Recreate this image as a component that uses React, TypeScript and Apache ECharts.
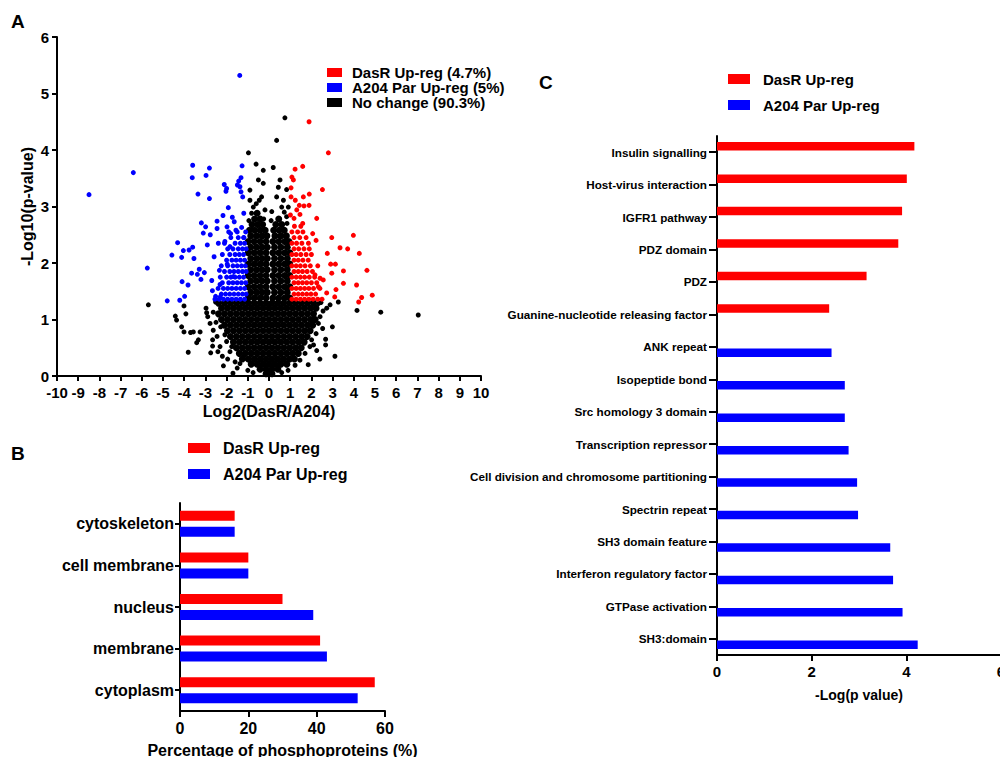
import React, { useEffect, useRef } from "react";
import * as echarts from "echarts";

const FONT = '"Liberation Sans", Arial, Helvetica, sans-serif';
const RED = "#ff0000";
const BLUE = "#0000ff";
const BLACK = "#000000";

// ---------- Panel A: volcano plot ----------
const nameUp = "DasR Up-reg (4.7%)";
const nameDown = "A204 Par Up-reg (5%)";
const nameNone = "No change (90.3%)";

// dense central cloud of unchanged phosphosites: [y, x values]
const noChangeCoreRows: [number, number[]][] = [
  [0.04, [-0.14, 0, 0.14]],
  [0.12, [-0.42, -0.14, 0.14, 0.42]],
  [0.21, [-0.84, -0.56, -0.28, 0, 0.28, 0.56, 0.84]],
  [0.3, [-1.26, -0.98, -0.7, -0.42, -0.14, 0.14, 0.42, 0.7, 0.98, 1.2]],
  [0.4, [-1.4, -1.12, -0.84, -0.56, -0.28, 0, 0.28, 0.56, 0.84, 1.12, 1.38]],
  [0.5, [-1.54, -1.26, -0.98, -0.7, -0.42, -0.14, 0.14, 0.42, 0.7, 0.98, 1.26, 1.52]],
  [0.6, [-1.68, -1.4, -1.12, -0.84, -0.56, -0.28, 0, 0.28, 0.56, 0.84, 1.12, 1.4, 1.66]],
  [0.7, [-1.82, -1.54, -1.26, -0.98, -0.7, -0.42, -0.14, 0.14, 0.42, 0.7, 0.98, 1.26, 1.54, 1.8]],
  [0.8, [-1.96, -1.68, -1.4, -1.12, -0.84, -0.56, -0.28, 0, 0.28, 0.56, 0.84, 1.12, 1.4, 1.68, 1.94]],
  [0.9, [-2.1, -1.82, -1.54, -1.26, -0.98, -0.7, -0.42, -0.14, 0.14, 0.42, 0.7, 0.98, 1.26, 1.54, 1.82, 2.06]],
  [1.0, [-2.24, -1.96, -1.68, -1.4, -1.12, -0.84, -0.56, -0.28, 0, 0.28, 0.56, 0.84, 1.12, 1.4, 1.68, 1.96, 2.18]],
  [1.1, [-2.38, -2.1, -1.82, -1.54, -1.26, -0.98, -0.7, -0.42, -0.14, 0.14, 0.42, 0.7, 0.98, 1.26, 1.54, 1.82, 2.1]],
  [1.2, [-2.24, -1.96, -1.68, -1.4, -1.12, -0.84, -0.56, -0.28, 0, 0.28, 0.56, 0.84, 1.12, 1.4, 1.68, 1.96, 2.22]],
  [1.29, [-2.38, -2.1, -1.82, -1.54, -1.26, -0.98, -0.7, -0.42, -0.14, 0.14, 0.42, 0.7, 0.98, 1.26, 1.54, 1.82, 2.1]],
  [1.38, [-0.98, -0.7, -0.42, -0.14, 0.18, 0.46, 0.74, 0.98]],
  [1.48, [-0.86, -0.58, -0.32, -0.08, 0.26, 0.56, 0.86]],
  [1.58, [-0.98, -0.7, -0.42, -0.14, 0.18, 0.46, 0.74, 0.98]],
  [1.68, [-0.86, -0.58, -0.32, -0.08, 0.26, 0.56, 0.86]],
  [1.78, [-0.98, -0.7, -0.42, -0.14, 0.18, 0.46, 0.74, 0.98]],
  [1.88, [-0.86, -0.58, -0.32, -0.08, 0.26, 0.56, 0.86]],
  [1.98, [-0.98, -0.7, -0.42, -0.14, 0.18, 0.46, 0.74, 0.98]],
  [2.08, [-0.86, -0.58, -0.32, -0.08, 0.26, 0.56, 0.86]],
  [2.18, [-0.98, -0.7, -0.42, -0.14, 0.18, 0.46, 0.74, 0.98]],
  [2.28, [-0.86, -0.58, -0.32, -0.08, 0.26, 0.56, 0.86]],
  [2.38, [-0.98, -0.7, -0.42, -0.14, 0.18, 0.46, 0.74, 0.94]],
  [2.48, [-0.86, -0.58, -0.32, -0.1, 0.28, 0.56, 0.82]],
  [2.58, [-0.92, -0.68, -0.42, -0.18, 0.22, 0.48, 0.72]],
  [2.68, [-0.8, -0.54, -0.3, 0.32, 0.6]],
  [2.78, [-0.68, -0.42, 0.46]],
  [2.88, [-0.56]],
];

// scattered unchanged phosphosites around the cloud: [x, y]
const noChangeSparse: [number, number][] = [
  [-5.69, 1.26], [-4.42, 1.06], [-4.36, 0.99], [-4.12, 0.87], [-4.01, 1.24], [-3.92, 1.1],
  [-4.01, 0.78], [-3.7, 0.77], [-3.57, 0.78], [-3.81, 0.42], [-3.41, 0.59], [-3.33, 0.64],
  [-3.25, 0.78], [-2.97, 1.2], [-2.94, 1.12], [-2.89, 1.05], [-2.78, 0.93], [-2.63, 1.13],
  [-2.75, 0.41], [-2.66, 0.53], [-2.66, 0.64], [-2.41, 0.43], [-2.31, 0.52], [-2.28, 0.87],
  [-2.63, 0.81], [-2.08, 0.73], [-2.0, 0.61], [-1.84, 0.43], [-1.76, 0.52], [-1.37, 0.22],
  [-1.21, 0.34], [-2.52, 1.31], [-2.5, 0.95], [-2.2, 0.35], [-1.95, 0.3], [-1.6, 0.25],
  [-1.5, 0.14], [-1.0, 0.1], [-0.75, 0.06], [-2.45, 0.7], [-2.15, 0.18], [-1.7, 0.05],
  [3.11, 0.35], [2.67, 0.65], [2.67, 0.55], [2.99, 0.87], [2.53, 0.84], [3.27, 1.31],
  [4.15, 1.16], [5.27, 1.13], [7.04, 1.08], [2.88, 1.26], [2.72, 1.2], [2.41, 1.05],
  [2.33, 0.93], [2.22, 0.75], [1.93, 0.52], [1.7, 0.4], [1.46, 0.28], [1.23, 0.19],
  [2.33, 1.28], [2.01, 0.64], [2.45, 1.3], [2.1, 0.55], [0.9, 0.1], [0.6, 0.06],
  [2.55, 1.15], [2.25, 0.45], [1.85, 0.2], [2.4, 0.3],
  [0.75, 4.57], [0.36, 4.17], [-0.97, 3.95], [-0.61, 3.75], [0.2, 3.69], [-0.27, 3.64],
  [0.44, 3.34], [0.83, 3.3], [0.52, 3.47], [-0.5, 3.47], [-0.35, 3.17], [-0.9, 3.29],
  [-0.46, 3.11], [0.36, 3.17], [0.68, 3.11], [0.91, 2.99], [0.6, 2.99], [-0.74, 2.99],
  [-0.19, 2.94], [0.13, 2.91], [-0.82, 2.88], [0.83, 2.82], [-0.27, 3.41], [-0.9, 3.11],
  [0.85, 2.7], [0.1, 2.75], [-0.95, 2.75], [-0.25, 2.78], [0.72, 2.9], [-0.6, 3.05],
];

// A204 Par up-regulated (left, significant): outliers [x, y]
const downOutliers: [number, number][] = [
  [-8.49, 3.21], [-6.4, 3.6], [-5.74, 1.91], [-4.8, 1.33], [-4.58, 2.14], [-4.31, 2.36],
  [-4.21, 1.34], [-4.12, 2.1], [-4.1, 1.67], [-4.04, 2.22], [-3.98, 1.41], [-3.82, 1.61],
  [-3.77, 2.23], [-3.65, 1.82], [-3.6, 2.28], [-3.54, 2.08], [-3.62, 3.51], [-3.6, 3.73],
  [-3.38, 1.8], [-3.35, 3.22], [-3.29, 1.89], [-3.21, 1.71], [-3.19, 2.71], [-3.1, 2.53],
  [-3.05, 1.83], [-2.99, 2.64], [-2.97, 3.55], [-2.91, 2.32], [-2.81, 3.68], [-2.81, 3.14],
  [-2.77, 2.5], [-2.7, 1.69], [-2.67, 1.51], [-2.59, 2.11], [-2.52, 1.41], [-2.45, 2.74],
  [-2.45, 2.61], [-2.39, 2.35], [-2.34, 1.87], [-2.31, 1.62], [-2.3, 1.4], [-2.17, 2.84],
  [-2.11, 3.39], [-2.08, 2.38], [-2.03, 3.27], [-2.0, 3.32], [-1.98, 2.64], [-1.97, 1.98],
  [-1.92, 2.98], [-1.84, 2.29], [-1.81, 2.52], [-1.73, 2.81], [-1.68, 1.76], [-1.64, 2.73],
  [-1.56, 2.58], [-1.49, 3.38], [-1.43, 3.45], [-1.37, 3.35], [-1.32, 3.51], [-1.27, 3.72],
  [-1.32, 3.26], [-1.24, 3.17], [-1.19, 2.88], [-1.29, 2.63], [-1.18, 2.45], [-1.38, 5.32],
];
// A204 Par up-regulated dense cluster: [y, x values]
const downClusterRows: [number, number[]][] = [
  [1.36, [-2.55, -2.35, -2.15, -1.95, -1.75, -1.55, -1.35, -1.15]],
  [1.45, [-2.25, -2.05, -1.85, -1.65, -1.45, -1.25, -1.08]],
  [1.55, [-2.4, -2.15, -1.95, -1.75, -1.55, -1.35, -1.15]],
  [1.65, [-2.2, -1.9, -1.7, -1.5, -1.3, -1.1]],
  [1.75, [-2.3, -2.0, -1.8, -1.6, -1.4, -1.2]],
  [1.85, [-2.1, -1.85, -1.65, -1.45, -1.25, -1.08]],
  [1.95, [-2.25, -1.95, -1.7, -1.5, -1.3, -1.12]],
  [2.05, [-2.0, -1.75, -1.55, -1.35, -1.15]],
  [2.15, [-2.2, -1.85, -1.6, -1.4, -1.2]],
  [2.25, [-1.95, -1.7, -1.45, -1.25, -1.08]],
  [2.35, [-2.1, -1.6, -1.35, -1.15]],
  [2.45, [-1.8, -1.45, -1.2]],
  [2.55, [-1.9, -1.5, -1.1]],
];

// DasR up-regulated (right, significant): outliers [x, y]
const upOutliers: [number, number][] = [
  [1.89, 4.5], [2.8, 3.95], [1.23, 3.66], [1.59, 3.71], [1.08, 3.52], [1.15, 3.47],
  [2.52, 3.3], [1.9, 3.22], [1.04, 3.33], [1.04, 3.17], [1.62, 3.17], [1.24, 3.11],
  [1.43, 3.02], [1.89, 3.02], [1.65, 3.01], [1.31, 2.94], [1.01, 2.85], [1.46, 2.86],
  [2.25, 2.79], [1.18, 2.79], [1.59, 2.7], [2.06, 2.52], [2.96, 2.45], [3.98, 2.49],
  [3.35, 2.27], [3.71, 2.25], [2.75, 2.17], [4.26, 2.17], [2.91, 1.98], [3.13, 1.98],
  [4.62, 1.87], [3.51, 1.86], [2.96, 1.82], [4.13, 1.61], [3.51, 1.64], [3.16, 1.53],
  [4.87, 1.43], [4.37, 1.39], [4.23, 1.31], [3.1, 1.4], [2.72, 1.47], [2.41, 1.73],
  [2.56, 1.7], [2.33, 1.58], [2.17, 1.79], [1.86, 2.35], [2.22, 2.4],
];
// DasR up-regulated dense cluster: [y, x values]
const upClusterRows: [number, number[]][] = [
  [1.36, [1.08, 1.28, 1.48, 1.68, 1.88, 2.08, 2.3, 2.5]],
  [1.45, [1.18, 1.38, 1.58, 1.78, 1.98, 2.2]],
  [1.55, [1.08, 1.28, 1.48, 1.68, 1.88, 2.1, 2.4]],
  [1.65, [1.18, 1.38, 1.58, 1.78, 2.0, 2.25]],
  [1.75, [1.08, 1.28, 1.48, 1.68, 1.9, 2.15]],
  [1.85, [1.18, 1.38, 1.58, 1.8, 2.05]],
  [1.95, [1.08, 1.28, 1.48, 1.7, 1.95, 2.3]],
  [2.05, [1.18, 1.38, 1.6, 1.85]],
  [2.15, [1.08, 1.28, 1.5, 1.75, 2.0]],
  [2.25, [1.18, 1.4, 1.65, 1.9]],
  [2.35, [1.08, 1.3, 1.55]],
  [2.45, [1.18, 1.45, 1.75]],
  [2.55, [1.08, 1.35, 1.6]],
  [2.65, [1.2, 1.5]],
];

// ---------- Panel B: subcellular location ----------
const locations = ["cytoskeleton", "cell membrane", "nucleus", "membrane", "cytoplasm"];
const locDasR = [16, 20, 30, 41, 57];
const locA204 = [16, 20, 39, 43, 52];

// ---------- Panel C: domain enrichment ----------
const domains = [
  "Insulin signalling",
  "Host-virus interaction",
  "IGFR1 pathway",
  "PDZ domain",
  "PDZ",
  "Guanine-nucleotide releasing factor",
  "ANK repeat",
  "Isopeptide bond",
  "Src homology 3 domain",
  "Transcription repressor",
  "Cell division and chromosome partitioning",
  "Spectrin repeat",
  "SH3 domain feature",
  "Interferon regulatory factor",
  "GTPase activation",
  "SH3:domain",
];
const domainDasR = [4.17, 4.01, 3.91, 3.83, 3.16, 2.37, null, null, null, null, null, null, null, null, null, null];
const domainA204 = [null, null, null, null, null, null, 2.42, 2.7, 2.7, 2.78, 2.96, 2.98, 3.66, 3.72, 3.92, 4.24];

const legendNames = ["DasR Up-reg", "A204 Par Up-reg"];

function rowsToPoints(rows: [number, number[]][]): [number, number][] {
  const out: [number, number][] = [];
  rows.forEach(([y, xs]) => xs.forEach((x) => out.push([x, y])));
  return out;
}

const axisLine = { show: true, onZero: false, lineStyle: { color: BLACK, width: 2 } };
const axisTick = (len: number) => ({ show: true, inside: false, length: len, lineStyle: { color: BLACK, width: 2 } });
const bold = (size: number) => ({ fontFamily: FONT, fontSize: size, fontWeight: "bold" as const, color: BLACK });

export default function App() {
  const ref = useRef<HTMLDivElement>(null);

  useEffect(() => {
    if (!ref.current) return;
    const chart = echarts.init(ref.current, undefined, { renderer: "svg" });

    const option: any = {
      animation: false,
      backgroundColor: "#ffffff",
      textStyle: { fontFamily: FONT },
      grid: [
        { left: 57, top: 37, width: 424, height: 339, outerBoundsMode: "none" },
        { left: 180, top: 503, width: 205, height: 208, outerBoundsMode: "none" },
        { left: 717, top: 136, width: 284, height: 519, outerBoundsMode: "none" },
      ],
      xAxis: [
        {
          gridIndex: 0, type: "value", min: -10, max: 10, interval: 1,
          axisLine, axisTick: axisTick(5), splitLine: { show: false },
          axisLabel: { ...bold(15), margin: 9 },
          name: "Log2(DasR/A204)", nameLocation: "middle", nameGap: 27,
          nameTextStyle: bold(16),
        },
        {
          gridIndex: 1, type: "value", min: 0, max: 60, interval: 20,
          axisLine, axisTick: axisTick(6), splitLine: { show: false },
          axisLabel: { ...bold(16), margin: 9 },
          name: "Percentage of phosphoproteins (%)", nameLocation: "middle", nameGap: 31,
          nameTextStyle: bold(16),
        },
        {
          gridIndex: 2, type: "value", min: 0, max: 6, interval: 2,
          axisLine, axisTick: axisTick(6), splitLine: { show: false },
          axisLabel: { ...bold(15), margin: 9 },
          name: "-Log(p value)", nameLocation: "middle", nameGap: 33,
          nameTextStyle: bold(14),
        },
      ],
      yAxis: [
        {
          gridIndex: 0, type: "value", min: 0, max: 6, interval: 1,
          axisLine, axisTick: axisTick(5), splitLine: { show: false },
          axisLabel: { ...bold(15), margin: 8 },
          name: "-Log10(p-value)", nameLocation: "middle", nameGap: 22,
          nameTextStyle: bold(16),
        },
        {
          gridIndex: 1, type: "category", inverse: true, data: locations,
          axisLine, axisTick: { ...axisTick(5), alignWithLabel: true },
          axisLabel: { ...bold(16), margin: 6 },
        },
        {
          gridIndex: 2, type: "category", inverse: true, data: domains,
          axisLine, axisTick: { ...axisTick(8), alignWithLabel: true },
          axisLabel: { ...bold(11.7), margin: 10 },
        },
      ],
      legend: [
        {
          left: 327, top: 65, orient: "vertical", padding: 0, itemGap: 0,
          itemWidth: 15, itemHeight: 9, icon: "rect", selectedMode: false,
          data: [nameUp, nameDown, nameNone],
          textStyle: { ...bold(15), lineHeight: 14, padding: [0, 0, 0, 5] },
        },
        {
          left: 188, top: 439, orient: "vertical", padding: 0, itemGap: 8,
          itemWidth: 22, itemHeight: 10, icon: "rect", selectedMode: false,
          data: legendNames,
          textStyle: { ...bold(16), lineHeight: 18, padding: [0, 0, 0, 8] },
        },
        {
          left: 728, top: 70, orient: "vertical", padding: 0, itemGap: 8,
          itemWidth: 22, itemHeight: 10, icon: "rect", selectedMode: false,
          data: legendNames,
          textStyle: { ...bold(15), lineHeight: 18, padding: [0, 0, 0, 8] },
        },
      ],
      graphic: [
        { type: "text", left: 11, top: 12, style: { text: "A", font: `bold 19px ${FONT}`, fill: BLACK } },
        { type: "text", left: 11, top: 444, style: { text: "B", font: `bold 19px ${FONT}`, fill: BLACK } },
        { type: "text", left: 539, top: 73, style: { text: "C", font: `bold 19px ${FONT}`, fill: BLACK } },
      ],
      series: [
        {
          type: "scatter", name: nameNone, xAxisIndex: 0, yAxisIndex: 0, silent: true,
          symbolSize: 7, itemStyle: { color: BLACK, opacity: 1 }, data: rowsToPoints(noChangeCoreRows),
        },
        {
          type: "scatter", name: nameNone, xAxisIndex: 0, yAxisIndex: 0, silent: true,
          symbolSize: 5, itemStyle: { color: BLACK, opacity: 1 }, data: noChangeSparse,
        },
        {
          type: "scatter", name: nameDown, xAxisIndex: 0, yAxisIndex: 0, silent: true,
          symbolSize: 5, itemStyle: { color: BLUE, opacity: 1 },
          data: [...downOutliers, ...rowsToPoints(downClusterRows)],
        },
        {
          type: "scatter", name: nameUp, xAxisIndex: 0, yAxisIndex: 0, silent: true,
          symbolSize: 5, itemStyle: { color: RED, opacity: 1 },
          data: [...upOutliers, ...rowsToPoints(upClusterRows)],
        },
        {
          type: "bar", name: legendNames[0], xAxisIndex: 1, yAxisIndex: 1, silent: true,
          barWidth: 10, barGap: "60%", itemStyle: { color: RED }, data: locDasR,
        },
        {
          type: "bar", name: legendNames[1], xAxisIndex: 1, yAxisIndex: 1, silent: true,
          barWidth: 10, barGap: "60%", itemStyle: { color: BLUE }, data: locA204,
        },
        {
          type: "bar", name: legendNames[0], xAxisIndex: 2, yAxisIndex: 2, silent: true,
          barWidth: 8.5, barGap: "41%", itemStyle: { color: RED },
          data: domainDasR.map((v) => (v === null ? "-" : v)),
        },
        {
          type: "bar", name: legendNames[1], xAxisIndex: 2, yAxisIndex: 2, silent: true,
          barWidth: 8.5, barGap: "41%", itemStyle: { color: BLUE },
          data: domainA204.map((v) => (v === null ? "-" : v)),
        },
      ],
    };

    chart.setOption(option);
    return () => chart.dispose();
  }, []);

  return (
    <div
      ref={ref}
      style={{ position: "absolute", left: 0, top: 0, width: 1000, height: 757, background: "#fff" }}
    />
  );
}
